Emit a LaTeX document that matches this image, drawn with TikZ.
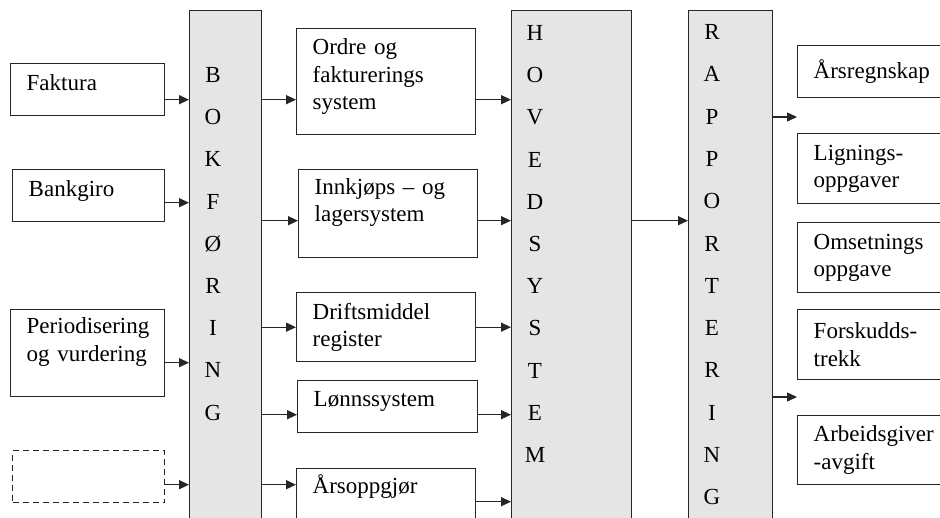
\documentclass[tikz,border=0pt]{standalone}
\usepackage{fontspec}
\setmainfont{Liberation Serif}
\usetikzlibrary{arrows.meta}
\newcommand{\boxfont}{\fontsize{11.5}{13.8}\selectfont}
\tikzset{
    box/.style={draw=black!85, line width=0.7pt, anchor=north west, inner xsep=8pt, inner ysep=0pt, align=left, font=\boxfont},
    bar/.style={draw=black!85, line width=0.7pt, fill=gray!20, anchor=north west, minimum height=270pt, inner sep=0pt},
    letter/.style={font=\boxfont, inner sep=0pt},
    arr/.style={-{Triangle[length=5pt,width=4.5pt]}, line width=0.7pt, black!85}
}
\begin{document}
\begin{tikzpicture}[x=0.5pt, y=-0.5pt]
    \useasboundingbox (0,0) rectangle (940,518);
    \clip (0,0) rectangle (940,518);

    % Kilder
    \node[box, text width=61pt, minimum height=26pt, text depth=7pt] (fak) at (10,63) {Faktura};
    \node[box, text width=60pt, minimum height=26pt, text depth=7.5pt] (bank) at (12,169) {Bankgiro};
    \node[box, text width=61pt, minimum height=43.5pt, text depth=27.5pt] (per) at (10,309) {Periodisering\\og vurdering};
    \node[box, dash pattern=on 3pt off 2pt, text width=60pt, minimum height=26pt] (tom) at (12,450) {};

    % Søyler
    \node[bar, minimum width=36pt] (bok) at (189,10) {};
    \node[bar, minimum width=60pt] (hov) at (511,10) {};
    \node[bar, minimum width=42pt] (rap) at (688,10) {};

    \foreach \ch [count=\i] in {B,O,K,F,Ø,R,I,N,G}
        \node[letter] (bok\i) at (213,{75+42.2*(\i-1)}) {\ch};
    \foreach \ch [count=\i] in {H,O,V,E,D,S,Y,S,T,E,M}
        \node[letter] (hov\i) at (535,{33+42.2*(\i-1)}) {\ch};
    \foreach \ch [count=\i] in {R,A,P,P,O,R,T,E,R,I,N,G}
        \node[letter] (rap\i) at (712,{32+42.3*(\i-1)}) {\ch};

    % Delsystemer
    \node[box, text width=73.5pt, minimum height=53pt, text depth=35pt] (ord) at (296,28) {Ordre og\\fakturerings\\system};
    \node[box, text width=73.5pt, minimum height=44pt, text depth=27.5pt] (inn) at (298,169) {Innkjøps – og\\lagersystem};
    \node[box, text width=73.5pt, minimum height=34.5pt] (drift) at (296,292) {Driftsmiddel\\register};
    \node[box, text width=74pt, minimum height=26pt, text depth=7.5pt] (lonn) at (297,380) {Lønnssystem};
    \node[box, text width=73.5pt, minimum height=33pt, text depth=18pt] (arso) at (296,468) {Årsoppgjør};

    % Rapporter
    \node[box, text width=74pt, minimum height=26pt] (regn) at (797,45) {Årsregnskap};
    \node[box, text width=74pt, minimum height=35pt] (lign) at (797,133) {Lignings-\\oppgaver};
    \node[box, text width=74pt, minimum height=35pt] (oms) at (797,222) {Omsetnings\\oppgave};
    \node[box, text width=74pt, minimum height=35pt] (forsk) at (797,309) {Forskudds-\\trekk};
    \node[box, text width=74pt, minimum height=34.5pt] (arbg) at (797,415) {Arbeidsgiver\\-avgift};

    % Piler inn til bokføring
    \draw[arr] ([yshift=-5pt]fak.east) -- ([yshift=-5pt]fak.east -| bok.west);
    \draw[arr] ([yshift=-3.5pt]bank.east) -- ([yshift=-3.5pt]bank.east -| bok.west);
    \draw[arr] ([yshift=-4.75pt]per.east) -- ([yshift=-4.75pt]per.east -| bok.west);
    \draw[arr] ([yshift=-4pt]tom.east) -- ([yshift=-4pt]tom.east -| bok.west);

    % Piler gjennom delsystemene
    \coordinate (ordA) at ([yshift=-9pt]ord.west);
    \coordinate (innA) at ([yshift=-3.5pt]inn.west);
    \coordinate (driftA) at (drift.west);
    \coordinate (lonnA) at ([yshift=-4pt]lonn.west);
    \coordinate (arsoA) at ([yshift=8.5pt]arso.west);
    \foreach \sys in {ord,inn,drift,lonn,arso}
        \draw[arr] (bok.east |- \sys A) -- (\sys A);
    \foreach \sys in {ord,inn,drift,lonn}
        \draw[arr] (\sys.east |- \sys A) -- (hov.west |- \sys A);
    \draw[arr] (arso.east) -- (arso.east -| hov.west);

    % Hovedsystem til rapportering
    \draw[arr] (hov.east |- innA) -- (rap.west |- innA);

    % Piler ut
    \coordinate (ut1) at (797,117);
    \coordinate (ut2) at (797,397);
    \draw[arr] (rap.east |- ut1) -- (ut1);
    \draw[arr] (rap.east |- ut2) -- (ut2);
\end{tikzpicture}
\end{document}
